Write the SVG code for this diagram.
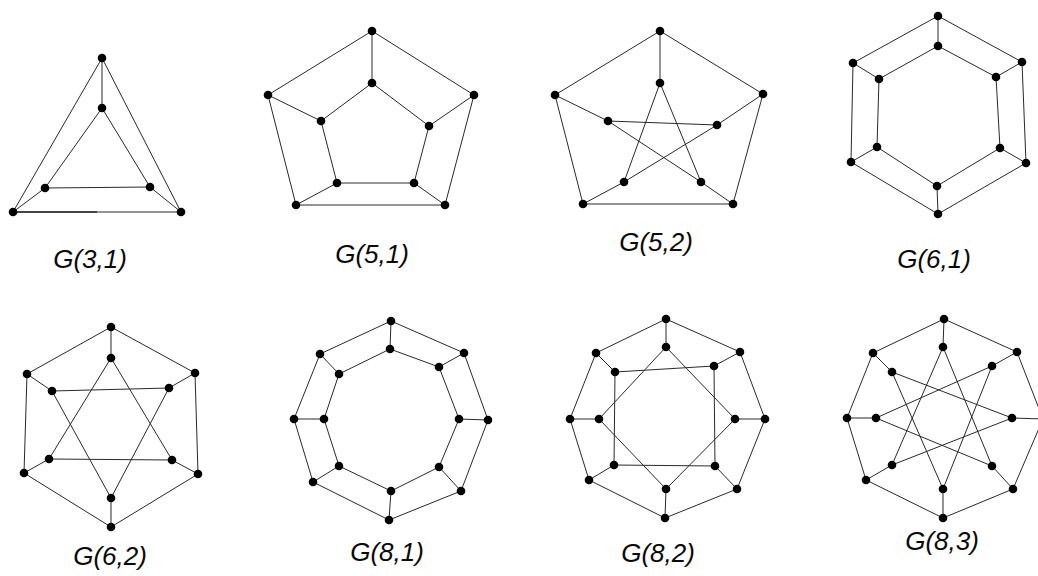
<svg xmlns="http://www.w3.org/2000/svg" width="1038" height="576" viewBox="0 0 1038 576">
<style>
.e line,.e polygon{stroke:#2a2a2a;stroke-width:1;fill:none}
.n circle{fill:#000}
.lbl{font-family:"Liberation Sans",Arial,sans-serif;font-style:italic;font-size:26px;fill:#0a0a0a;text-anchor:middle}
</style>
<rect width="1038" height="576" fill="#fff"/>

<!-- G(3,1) -->
<g id="g31">
<g id="g31-edges" class="e">
<polygon points="102,58 181,212 13,212"/>
<line x1="13" y1="212" x2="97" y2="212" style="stroke-width:1.6"/>
<polygon points="102,108 150,187 45,188"/>
<line x1="102" y1="58" x2="102" y2="108"/>
<line x1="181" y1="212" x2="150" y2="187"/>
<line x1="13" y1="212" x2="45" y2="188"/>
</g>
<g id="g31-nodes" class="n">
<circle id="g31-o0" cx="102" cy="58" r="4.3"/><circle id="g31-o1" cx="181" cy="212" r="4.3"/><circle id="g31-o2" cx="13" cy="212" r="4.3"/>
<circle id="g31-i0" cx="102" cy="108" r="4.3"/><circle id="g31-i1" cx="150" cy="187" r="4.3"/><circle id="g31-i2" cx="45" cy="188" r="4.3"/>
</g>
<text class="lbl" x="90" y="268">G(3,1)</text>
</g>

<!-- G(5,1) -->
<g id="g51">
<g id="g51-edges" class="e">
<polygon points="372,31 474,95 445,205 296,205 268,95"/>
<polygon points="372,83 429,126 414,183 337,183 321,121"/>
<line x1="372" y1="31" x2="372" y2="83"/>
<line x1="474" y1="95" x2="429" y2="126"/>
<line x1="445" y1="205" x2="414" y2="183"/>
<line x1="296" y1="205" x2="337" y2="183"/>
<line x1="268" y1="95" x2="321" y2="121"/>
</g>
<g id="g51-nodes" class="n">
<circle id="g51-o0" cx="372" cy="31" r="4.3"/><circle id="g51-o1" cx="474" cy="95" r="4.3"/><circle id="g51-o2" cx="445" cy="205" r="4.3"/><circle id="g51-o3" cx="296" cy="205" r="4.3"/><circle id="g51-o4" cx="268" cy="95" r="4.3"/>
<circle id="g51-i0" cx="372" cy="83" r="4.3"/><circle id="g51-i1" cx="429" cy="126" r="4.3"/><circle id="g51-i2" cx="414" cy="183" r="4.3"/><circle id="g51-i3" cx="337" cy="183" r="4.3"/><circle id="g51-i4" cx="321" cy="121" r="4.3"/>
</g>
<text class="lbl" x="372" y="263">G(5,1)</text>
</g>

<!-- G(5,2) -->
<g id="g52">
<g id="g52-edges" class="e">
<polygon points="660,31 763,94 733,204 583,204 555,95"/>
<polygon points="660,83 701,182 608,121 717,125 624,182"/>
<line x1="660" y1="31" x2="660" y2="83"/>
<line x1="763" y1="94" x2="717" y2="125"/>
<line x1="733" y1="204" x2="701" y2="182"/>
<line x1="583" y1="204" x2="624" y2="182"/>
<line x1="555" y1="95" x2="608" y2="121"/>
</g>
<g id="g52-nodes" class="n">
<circle id="g52-o0" cx="660" cy="31" r="4.3"/><circle id="g52-o1" cx="763" cy="94" r="4.3"/><circle id="g52-o2" cx="733" cy="204" r="4.3"/><circle id="g52-o3" cx="583" cy="204" r="4.3"/><circle id="g52-o4" cx="555" cy="95" r="4.3"/>
<circle id="g52-i0" cx="660" cy="83" r="4.3"/><circle id="g52-i1" cx="717" cy="125" r="4.3"/><circle id="g52-i2" cx="701" cy="182" r="4.3"/><circle id="g52-i3" cx="624" cy="182" r="4.3"/><circle id="g52-i4" cx="608" cy="121" r="4.3"/>
</g>
<text class="lbl" x="656" y="251">G(5,2)</text>
</g>

<!-- G(6,1) -->
<g id="g61">
<g id="g61-edges" class="e">
<polygon points="938,16 1022,62 1026,163 938,214 851,162 853,63"/>
<polygon points="938,46 996,77 1000,148 937,186 877,147 879,79"/>
<line x1="938" y1="16" x2="938" y2="46"/>
<line x1="1022" y1="62" x2="996" y2="77"/>
<line x1="1026" y1="163" x2="1000" y2="148"/>
<line x1="938" y1="214" x2="937" y2="186"/>
<line x1="851" y1="162" x2="877" y2="147"/>
<line x1="853" y1="63" x2="879" y2="79"/>
</g>
<g id="g61-nodes" class="n">
<circle id="g61-o0" cx="938" cy="16" r="4.3"/><circle id="g61-o1" cx="1022" cy="62" r="4.3"/><circle id="g61-o2" cx="1026" cy="163" r="4.3"/><circle id="g61-o3" cx="938" cy="214" r="4.3"/><circle id="g61-o4" cx="851" cy="162" r="4.3"/><circle id="g61-o5" cx="853" cy="63" r="4.3"/>
<circle id="g61-i0" cx="938" cy="46" r="4.3"/><circle id="g61-i1" cx="996" cy="77" r="4.3"/><circle id="g61-i2" cx="1000" cy="148" r="4.3"/><circle id="g61-i3" cx="937" cy="186" r="4.3"/><circle id="g61-i4" cx="877" cy="147" r="4.3"/><circle id="g61-i5" cx="879" cy="79" r="4.3"/>
</g>
<text class="lbl" x="934" y="268">G(6,1)</text>
</g>

<!-- G(6,2) -->
<g id="g62">
<g id="g62-edges" class="e">
<polygon points="111,327 195,373 198,474 111,527 24,473 27,374"/>
<polygon points="111,358 172,460 49,459"/>
<polygon points="169,388 111,498 52,391"/>
<line x1="111" y1="327" x2="111" y2="358"/>
<line x1="195" y1="373" x2="169" y2="388"/>
<line x1="198" y1="474" x2="172" y2="460"/>
<line x1="111" y1="527" x2="111" y2="498"/>
<line x1="24" y1="473" x2="49" y2="459"/>
<line x1="27" y1="374" x2="52" y2="391"/>
</g>
<g id="g62-nodes" class="n">
<circle id="g62-o0" cx="111" cy="327" r="4.3"/><circle id="g62-o1" cx="195" cy="373" r="4.3"/><circle id="g62-o2" cx="198" cy="474" r="4.3"/><circle id="g62-o3" cx="111" cy="527" r="4.3"/><circle id="g62-o4" cx="24" cy="473" r="4.3"/><circle id="g62-o5" cx="27" cy="374" r="4.3"/>
<circle id="g62-i0" cx="111" cy="358" r="4.3"/><circle id="g62-i1" cx="169" cy="388" r="4.3"/><circle id="g62-i2" cx="172" cy="460" r="4.3"/><circle id="g62-i3" cx="111" cy="498" r="4.3"/><circle id="g62-i4" cx="49" cy="459" r="4.3"/><circle id="g62-i5" cx="52" cy="391" r="4.3"/>
</g>
<text class="lbl" x="110" y="565">G(6,2)</text>
</g>

<!-- G(8,1) -->
<g id="g81">
<g id="g81-edges" class="e">
<polygon points="391,321 464,353 488,420 461,491 389,520 313,482 294,419 320,354"/>
<polygon points="390,349 439,367 459,419 439,467 391,491 339,466 324,419 339,374"/>
<line x1="391" y1="321" x2="390" y2="349"/>
<line x1="464" y1="353" x2="439" y2="367"/>
<line x1="488" y1="420" x2="459" y2="419"/>
<line x1="461" y1="491" x2="439" y2="467"/>
<line x1="389" y1="520" x2="391" y2="491"/>
<line x1="313" y1="482" x2="339" y2="466"/>
<line x1="294" y1="419" x2="324" y2="419"/>
<line x1="320" y1="354" x2="339" y2="374"/>
</g>
<g id="g81-nodes" class="n">
<circle id="g81-o0" cx="391" cy="321" r="4.3"/><circle id="g81-o1" cx="464" cy="353" r="4.3"/><circle id="g81-o2" cx="488" cy="420" r="4.3"/><circle id="g81-o3" cx="461" cy="491" r="4.3"/><circle id="g81-o4" cx="389" cy="520" r="4.3"/><circle id="g81-o5" cx="313" cy="482" r="4.3"/><circle id="g81-o6" cx="294" cy="419" r="4.3"/><circle id="g81-o7" cx="320" cy="354" r="4.3"/>
<circle id="g81-i0" cx="390" cy="349" r="4.3"/><circle id="g81-i1" cx="439" cy="367" r="4.3"/><circle id="g81-i2" cx="459" cy="419" r="4.3"/><circle id="g81-i3" cx="439" cy="467" r="4.3"/><circle id="g81-i4" cx="391" cy="491" r="4.3"/><circle id="g81-i5" cx="339" cy="466" r="4.3"/><circle id="g81-i6" cx="324" cy="419" r="4.3"/><circle id="g81-i7" cx="339" cy="374" r="4.3"/>
</g>
<text class="lbl" x="387" y="561">G(8,1)</text>
</g>

<!-- G(8,2) -->
<g id="g82">
<g id="g82-edges" class="e">
<polygon points="666,319 740,352 765,419 737,489 665,518 589,480 570,419 596,353"/>
<polygon points="666,347 735,419 666,489 599,419"/>
<polygon points="714,366 715,466 614,465 615,372"/>
<line x1="666" y1="319" x2="666" y2="347"/>
<line x1="740" y1="352" x2="714" y2="366"/>
<line x1="765" y1="419" x2="735" y2="419"/>
<line x1="737" y1="489" x2="715" y2="466"/>
<line x1="665" y1="518" x2="666" y2="489"/>
<line x1="589" y1="480" x2="614" y2="465"/>
<line x1="570" y1="419" x2="599" y2="419"/>
<line x1="596" y1="353" x2="615" y2="372"/>
</g>
<g id="g82-nodes" class="n">
<circle id="g82-o0" cx="666" cy="319" r="4.3"/><circle id="g82-o1" cx="740" cy="352" r="4.3"/><circle id="g82-o2" cx="765" cy="419" r="4.3"/><circle id="g82-o3" cx="737" cy="489" r="4.3"/><circle id="g82-o4" cx="665" cy="518" r="4.3"/><circle id="g82-o5" cx="589" cy="480" r="4.3"/><circle id="g82-o6" cx="570" cy="419" r="4.3"/><circle id="g82-o7" cx="596" cy="353" r="4.3"/>
<circle id="g82-i0" cx="666" cy="347" r="4.3"/><circle id="g82-i1" cx="714" cy="366" r="4.3"/><circle id="g82-i2" cx="735" cy="419" r="4.3"/><circle id="g82-i3" cx="715" cy="466" r="4.3"/><circle id="g82-i4" cx="666" cy="489" r="4.3"/><circle id="g82-i5" cx="614" cy="465" r="4.3"/><circle id="g82-i6" cx="599" cy="419" r="4.3"/><circle id="g82-i7" cx="615" cy="372" r="4.3"/>
</g>
<text class="lbl" x="658" y="562">G(8,2)</text>
</g>

<!-- G(8,3) -->
<g id="g83">
<g id="g83-edges" class="e">
<polygon points="944,319 1017,352 1043,419 1013,489 943,518 866,480 847,418 873,353"/>
<polygon points="943,347 992,466 876,418 992,366 943,489 892,372 1012,418 892,465"/>
<line x1="944" y1="319" x2="943" y2="347"/>
<line x1="1017" y1="352" x2="992" y2="366"/>
<line x1="1043" y1="419" x2="1012" y2="418"/>
<line x1="1013" y1="489" x2="992" y2="466"/>
<line x1="943" y1="518" x2="943" y2="489"/>
<line x1="866" y1="480" x2="892" y2="465"/>
<line x1="847" y1="418" x2="876" y2="418"/>
<line x1="873" y1="353" x2="892" y2="372"/>
</g>
<g id="g83-nodes" class="n">
<circle id="g83-o0" cx="944" cy="319" r="4.3"/><circle id="g83-o1" cx="1017" cy="352" r="4.3"/><circle id="g83-o2" cx="1043" cy="419" r="4.3"/><circle id="g83-o3" cx="1013" cy="489" r="4.3"/><circle id="g83-o4" cx="943" cy="518" r="4.3"/><circle id="g83-o5" cx="866" cy="480" r="4.3"/><circle id="g83-o6" cx="847" cy="418" r="4.3"/><circle id="g83-o7" cx="873" cy="353" r="4.3"/>
<circle id="g83-i0" cx="943" cy="347" r="4.3"/><circle id="g83-i1" cx="992" cy="366" r="4.3"/><circle id="g83-i2" cx="1012" cy="418" r="4.3"/><circle id="g83-i3" cx="992" cy="466" r="4.3"/><circle id="g83-i4" cx="943" cy="489" r="4.3"/><circle id="g83-i5" cx="892" cy="465" r="4.3"/><circle id="g83-i6" cx="876" cy="418" r="4.3"/><circle id="g83-i7" cx="892" cy="372" r="4.3"/>
</g>
<text class="lbl" x="942" y="550">G(8,3)</text>
</g>
</svg>
